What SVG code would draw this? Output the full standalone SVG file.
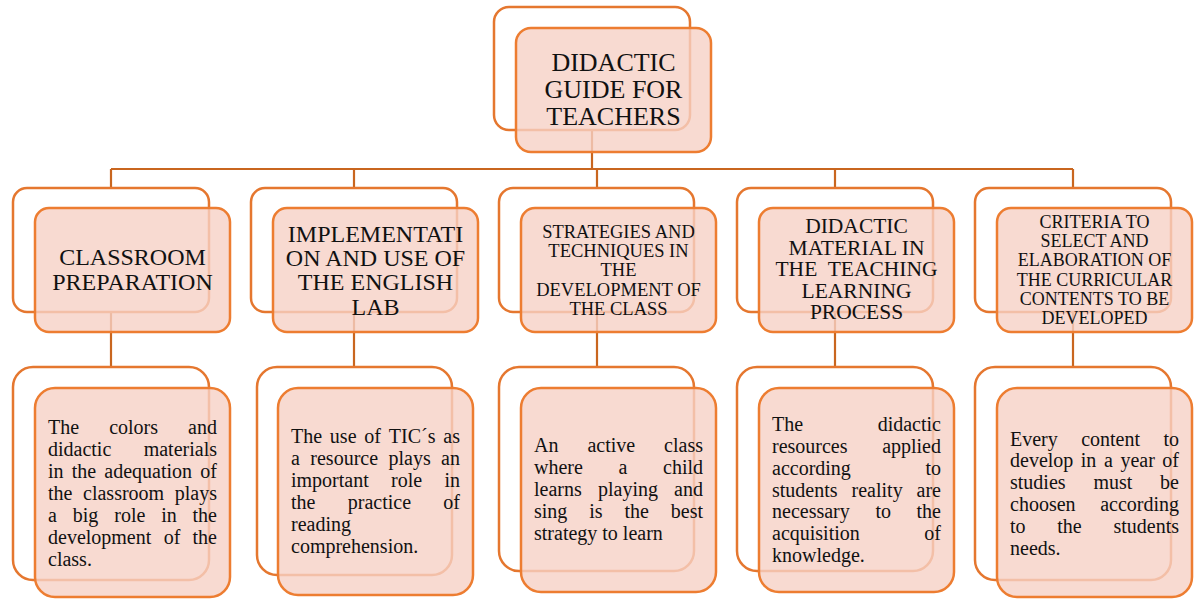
<svg xmlns="http://www.w3.org/2000/svg" width="1199" height="600" viewBox="0 0 1199 600">
  <style>
    .back { fill: #ffffff; stroke: #E5772F; stroke-width: 2.5; }
    .front { fill: #F6D1C5; fill-opacity: 0.8; stroke: #ED7D31; stroke-width: 2.5; }
    .link { fill: none; stroke: #C9661F; stroke-width: 2.2; }
    text { font-family: "Liberation Serif", "Times New Roman", serif; fill: #111111; }
    .title { font-size: 26px; text-anchor: middle; }
    .h24 { font-size: 24px; text-anchor: middle; }
    .h18 { font-size: 18.5px; text-anchor: middle; }
    .h21 { font-size: 21.5px; text-anchor: middle; }
    .h17 { font-size: 18px; text-anchor: middle; }
    .body { font-size: 20px; }
    .e { text-anchor: end; }
    .m { text-anchor: middle; }
  </style>

  <!-- connectors -->
  <g id="connectors">
    <path class="link" d="M592,130 V169"/>
    <path class="link" d="M111,169 H1073"/>
    <path class="link" d="M111,169 V188 M354,169 V188 M597,169 V188 M835,169 V188 M1073,169 V188"/>
    <path class="link" d="M111,312 V367 M354,312 V367 M597,312 V367 M835,312 V367 M1073,312 V367"/>
  </g>

  <!-- root -->
  <g id="root">
    <rect class="back" x="494" y="7" width="196" height="123" rx="15"/>
    <rect class="front" x="516" y="28" width="195" height="124" rx="15"/>
    <text class="title" x="613.5" y="71">DIDACTIC</text>
    <text class="title" x="613.5" y="98">GUIDE FOR</text>
    <text class="title" x="613.5" y="125">TEACHERS</text>
  </g>

  <!-- second level -->
  <g id="classroom-preparation">
    <rect class="back" x="13" y="188" width="196" height="124" rx="14"/>
    <rect class="front" x="35" y="208" width="195" height="124" rx="14"/>
    <text class="h24" x="132.5" y="265">CLASSROOM</text>
    <text class="h24" x="132.5" y="290">PREPARATION</text>
  </g>

  <g id="english-lab">
    <rect class="back" x="251" y="188" width="206" height="124" rx="14"/>
    <rect class="front" x="273" y="208" width="205" height="124" rx="14"/>
    <text class="h24" x="375.5" y="242">IMPLEMENTATI</text>
    <text class="h24" x="375.5" y="266">ON AND USE OF</text>
    <text class="h24" x="375.5" y="290">THE ENGLISH</text>
    <text class="h24" x="375.5" y="315">LAB</text>
  </g>

  <g id="strategies">
    <rect class="back" x="499" y="188" width="195" height="124" rx="14"/>
    <rect class="front" x="521" y="208" width="195" height="124" rx="14"/>
    <text class="h18" x="618.5" y="238">STRATEGIES AND</text>
    <text class="h18" x="618.5" y="257.2">TECHNIQUES IN</text>
    <text class="h18" x="618.5" y="276.4">THE</text>
    <text class="h18" x="618.5" y="295.6">DEVELOPMENT OF</text>
    <text class="h18" x="618.5" y="314.8">THE CLASS</text>
  </g>

  <g id="didactic-material">
    <rect class="back" x="737" y="188" width="196" height="124" rx="14"/>
    <rect class="front" x="759" y="208" width="195" height="124" rx="14"/>
    <text class="h21" x="856.5" y="233">DIDACTIC</text>
    <text class="h21" x="856.5" y="254.5">MATERIAL IN</text>
    <text class="h21" x="856.5" y="276" style="white-space:pre">THE  TEACHING</text>
    <text class="h21" x="856.5" y="297.5">LEARNING</text>
    <text class="h21" x="856.5" y="319">PROCESS</text>
  </g>

  <g id="curricular-criteria">
    <rect class="back" x="975" y="188" width="196" height="124" rx="14"/>
    <rect class="front" x="997" y="208" width="195" height="124" rx="14"/>
    <text class="h17" x="1094.5" y="228">CRITERIA TO</text>
    <text class="h17" x="1094.5" y="247.2">SELECT AND</text>
    <text class="h17" x="1094.5" y="266.4">ELABORATION OF</text>
    <text class="h17" x="1094.5" y="285.6">THE CURRICULAR</text>
    <text class="h17" x="1094.5" y="304.8">CONTENTS TO BE</text>
    <text class="h17" x="1094.5" y="324">DEVELOPED</text>
  </g>

  <!-- third level -->
  <g id="classroom-detail">
    <rect class="back" x="13" y="367" width="196" height="213" rx="20"/>
    <rect class="front" x="35" y="388" width="195" height="209" rx="20"/>
    <text class="body" y="434"><tspan x="48">The</tspan><tspan class="m" x="133.6">colors</tspan><tspan class="e" x="217">and</tspan></text>
    <text class="body" y="456"><tspan x="48">didactic</tspan><tspan class="e" x="217">materials</tspan></text>
    <text class="body" y="478"><tspan x="48">in</tspan><tspan class="m" x="84">the</tspan><tspan class="m" x="148.2">adequation</tspan><tspan class="e" x="217">of</tspan></text>
    <text class="body" y="500"><tspan x="48">the</tspan><tspan class="m" x="123.6">classroom</tspan><tspan class="e" x="217">plays</tspan></text>
    <text class="body" y="522"><tspan x="48">a</tspan><tspan class="m" x="85.6">big</tspan><tspan class="m" x="129.8">role</tspan><tspan class="m" x="169">in</tspan><tspan class="e" x="217">the</tspan></text>
    <text class="body" y="544"><tspan x="48">development</tspan><tspan class="m" x="172">of</tspan><tspan class="e" x="217">the</tspan></text>
    <text class="body" x="48" y="566">class.</text>
  </g>

  <g id="lab-detail">
    <rect class="back" x="257" y="367" width="195" height="208" rx="20"/>
    <rect class="front" x="278" y="388" width="195" height="207" rx="20"/>
    <text class="body" y="443"><tspan x="291">The</tspan><tspan class="m" x="343.2">use</tspan><tspan class="m" x="372.7">of</tspan><tspan class="m" x="412.2">TIC´s</tspan><tspan class="e" x="460">as</tspan></text>
    <text class="body" y="465"><tspan x="291">a</tspan><tspan class="m" x="344.2">resource</tspan><tspan class="m" x="409.6">plays</tspan><tspan class="e" x="460">an</tspan></text>
    <text class="body" y="487"><tspan x="291">important</tspan><tspan class="m" x="406.6">role</tspan><tspan class="e" x="460">in</tspan></text>
    <text class="body" y="509"><tspan x="291">the</tspan><tspan class="m" x="379.4">practice</tspan><tspan class="e" x="460">of</tspan></text>
    <text class="body" x="291" y="531">reading</text>
    <text class="body" x="291" y="553">comprehension.</text>
  </g>

  <g id="strategies-detail">
    <rect class="back" x="499" y="367" width="195" height="204" rx="20"/>
    <rect class="front" x="521" y="388" width="195" height="204" rx="20"/>
    <text class="body" y="452"><tspan x="534">An</tspan><tspan class="m" x="611.3">active</tspan><tspan class="e" x="703">class</tspan></text>
    <text class="body" y="474"><tspan x="534">where</tspan><tspan class="m" x="623">a</tspan><tspan class="e" x="703">child</tspan></text>
    <text class="body" y="496"><tspan x="534">learns</tspan><tspan class="m" x="628">playing</tspan><tspan class="e" x="703">and</tspan></text>
    <text class="body" y="518"><tspan x="534">sing</tspan><tspan class="m" x="595.9">is</tspan><tspan class="m" x="636.7">the</tspan><tspan class="e" x="703">best</tspan></text>
    <text class="body" x="534" y="540">strategy to learn</text>
  </g>

  <g id="material-detail">
    <rect class="back" x="737" y="367" width="196" height="204" rx="20"/>
    <rect class="front" x="759" y="388" width="195" height="204" rx="20"/>
    <text class="body" y="431"><tspan x="772">The</tspan><tspan class="e" x="941">didactic</tspan></text>
    <text class="body" y="453"><tspan x="772">resources</tspan><tspan class="e" x="941">applied</tspan></text>
    <text class="body" y="475"><tspan x="772">according</tspan><tspan class="e" x="941">to</tspan></text>
    <text class="body" y="497"><tspan x="772">students</tspan><tspan class="m" x="877.1">reality</tspan><tspan class="e" x="941">are</tspan></text>
    <text class="body" y="518"><tspan x="772">necessary</tspan><tspan class="m" x="883.2">to</tspan><tspan class="e" x="941">the</tspan></text>
    <text class="body" y="540"><tspan x="772">acquisition</tspan><tspan class="e" x="941">of</tspan></text>
    <text class="body" x="772" y="562">knowledge.</text>
  </g>

  <g id="criteria-detail">
    <rect class="back" x="975" y="367" width="196" height="213" rx="20"/>
    <rect class="front" x="997" y="388" width="195" height="209" rx="20"/>
    <text class="body" y="446"><tspan x="1010">Every</tspan><tspan class="m" x="1110.6">content</tspan><tspan class="e" x="1179">to</tspan></text>
    <text class="body" y="467"><tspan x="1010">develop</tspan><tspan class="m" x="1088.6">in</tspan><tspan class="m" x="1108.4">a</tspan><tspan class="m" x="1137.6">year</tspan><tspan class="e" x="1179">of</tspan></text>
    <text class="body" y="489"><tspan x="1010">studies</tspan><tspan class="m" x="1112.9">must</tspan><tspan class="e" x="1179">be</tspan></text>
    <text class="body" y="511"><tspan x="1010">choosen</tspan><tspan class="e" x="1179">according</tspan></text>
    <text class="body" y="533"><tspan x="1010">to</tspan><tspan class="m" x="1069.5">the</tspan><tspan class="e" x="1179">students</tspan></text>
    <text class="body" x="1010" y="555">needs.</text>
  </g>
</svg>
